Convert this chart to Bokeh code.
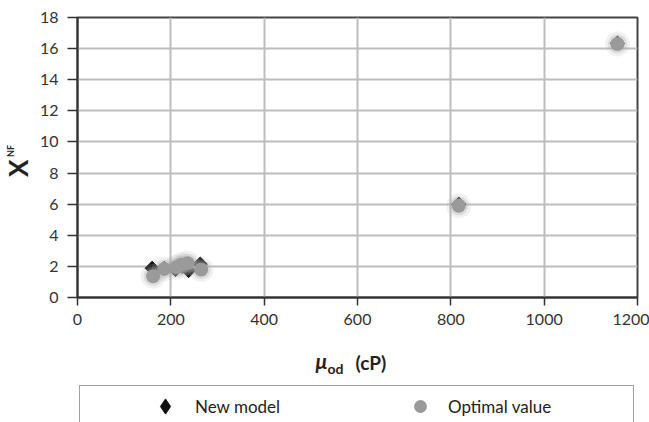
from bokeh.plotting import figure
from bokeh.layouts import column, row
from bokeh.models import Range1d, Legend, LegendItem, ColumnDataSource, Label
from bokeh.embed import file_html
from bokeh.resources import INLINE
import numpy as np

# ---- data ----
new_model_mu = [160, 186, 210, 225, 238, 263, 817, 1157]
new_model_xnf = [1.88, 1.87, 1.80, 2.00, 1.73, 2.15, 6.00, 16.35]
optimal_mu = [162, 186, 212, 222, 236, 265, 817, 1157]
optimal_xnf = [1.37, 1.84, 1.95, 2.10, 2.20, 1.80, 5.90, 16.30]
x_ticks = [0, 200, 400, 600, 800, 1000, 1200]
y_ticks = [0, 2, 4, 6, 8, 10, 12, 14, 16, 18]
series_names = ["New model", "Optimal value"]

FONT = "Lato"
TXT = "#222222"

nm_src = ColumnDataSource(dict(x=new_model_mu, y=new_model_xnf))
op_src = ColumnDataSource(dict(x=optimal_mu, y=optimal_xnf))

# ---------------- main chart ----------------
p = figure(width=613, height=340, output_backend="svg", toolbar_location=None,
           x_range=Range1d(x_ticks[0], x_ticks[-1]), y_range=Range1d(y_ticks[0], y_ticks[-1]),
           min_border_left=41, min_border_right=12, min_border_top=17, min_border_bottom=43)
p.outline_line_color = "#444444"
p.outline_line_width = 2

p.xaxis.ticker = x_ticks
p.yaxis.ticker = y_ticks
for ax in (p.xaxis, p.yaxis):
    ax.axis_line_color = "#333333"
    ax.axis_line_width = 2
    ax.major_tick_line_color = "#333333"
    ax.major_tick_line_width = 1.5
    ax.major_tick_in = 0
    ax.minor_tick_line_color = None
    ax.major_label_text_font = FONT
    ax.major_label_text_font_size = "16px"
    ax.major_label_text_color = "#333333"
p.xaxis.major_tick_out = 8
p.xaxis.major_label_standoff = 8
p.yaxis.major_tick_out = 10
p.yaxis.major_label_standoff = 9

p.xgrid.ticker = x_ticks
p.ygrid.ticker = y_ticks
p.grid.grid_line_color = "#bdbdbd"
p.grid.grid_line_width = 2

p.scatter("x", "y", source=nm_src, marker="square", angle=np.pi / 4, size=10,
          fill_color="#111111", line_color="#111111")
p.scatter("x", "y", source=op_src, marker="circle", size=25, fill_color="#b0b0b0",
          fill_alpha=0.18, line_color=None)
p.scatter("x", "y", source=op_src, marker="circle", size=19, fill_color="#a8a8a8",
          fill_alpha=0.3, line_color=None)
p.scatter("x", "y", source=op_src, marker="circle", size=14, fill_color="#9a9a9a",
          line_color=None)

# ---------------- text strips (frame = whole strip, so nothing is clipped) ----------------
def text_strip(w, h):
    f = figure(width=w, height=h, output_backend="svg", toolbar_location=None,
               x_range=Range1d(0, w), y_range=Range1d(0, h),
               min_border_left=0, min_border_right=0, min_border_top=0, min_border_bottom=0)
    f.axis.visible = False
    f.grid.visible = False
    f.outline_line_color = None
    return f

# y-axis title X_NF (strip coordinates: y measured from the strip bottom)
yl = text_strip(36, 340)
yl.add_layout(Label(x=17, y=157, text="X", angle=np.pi / 2, text_align="center",
                    text_baseline="middle", text_font=FONT, text_font_style="bold",
                    text_font_size="26px", text_color=TXT))
yl.add_layout(Label(x=10, y=178, text="NF", angle=np.pi / 2, text_align="center",
                    text_baseline="middle", text_font=FONT, text_font_style="bold",
                    text_font_size="9px", text_color=TXT))

# x-axis title mu_od (cP) and the legend
bt = text_strip(649, 82)
bt.add_layout(Label(x=315, y=62, text="μ", text_align="left", text_baseline="alphabetic",
                    text_font=FONT, text_font_style="bold italic", text_font_size="21px",
                    text_color=TXT))
bt.add_layout(Label(x=327, y=54, text="od", text_align="left", text_baseline="alphabetic",
                    text_font=FONT, text_font_style="bold", text_font_size="14px",
                    text_color=TXT))
bt.add_layout(Label(x=355, y=60, text="(cP)", text_align="left", text_baseline="alphabetic",
                    text_font=FONT, text_font_style="bold", text_font_size="19px",
                    text_color=TXT))

# legend key renderers: their points fall in an off-screen range, only the keys are shown
bt.extra_x_ranges = {"key": Range1d(-10, -9)}
nm_key = bt.scatter("x", "y", source=nm_src, x_range_name="key", marker="diamond",
                    fill_color="#111111", line_color="#111111")
op_key = bt.scatter("x", "y", source=op_src, x_range_name="key", marker="circle",
                    fill_color="#9a9a9a", line_color=None)
box_key = bt.scatter("x", "y", source=op_src, x_range_name="key", marker="circle",
                     fill_alpha=0, line_alpha=0)

box = Legend(items=[LegendItem(label="\u00a0", renderers=[box_key])], location=(79, -5),
             orientation="horizontal", padding=0, spacing=0, margin=0,
             glyph_width=1, glyph_height=40, label_standoff=0, label_width=552,
             label_height=40, border_line_color="#444444", border_line_width=1.5,
             background_fill_alpha=0)
bt.add_layout(box)
leg1 = Legend(items=[LegendItem(label=series_names[0], renderers=[nm_key])], location=(146, -3),
              orientation="horizontal", padding=0, spacing=0, margin=0,
              glyph_width=38, glyph_height=38, label_standoff=11, label_text_font=FONT,
              label_text_font_size="17px", label_text_color=TXT,
              border_line_alpha=0, background_fill_alpha=0)
bt.add_layout(leg1)
leg2 = Legend(items=[LegendItem(label=series_names[1], renderers=[op_key])], location=(404, 0),
              orientation="horizontal", padding=0, spacing=0, margin=0,
              glyph_width=32, glyph_height=32, label_standoff=12, label_text_font=FONT,
              label_text_font_size="17px", label_text_color=TXT,
              border_line_alpha=0, background_fill_alpha=0)
bt.add_layout(leg2)

layout = column(row(yl, p, spacing=0), bt, spacing=0)
open("out.html", "w").write(file_html(layout, INLINE))
